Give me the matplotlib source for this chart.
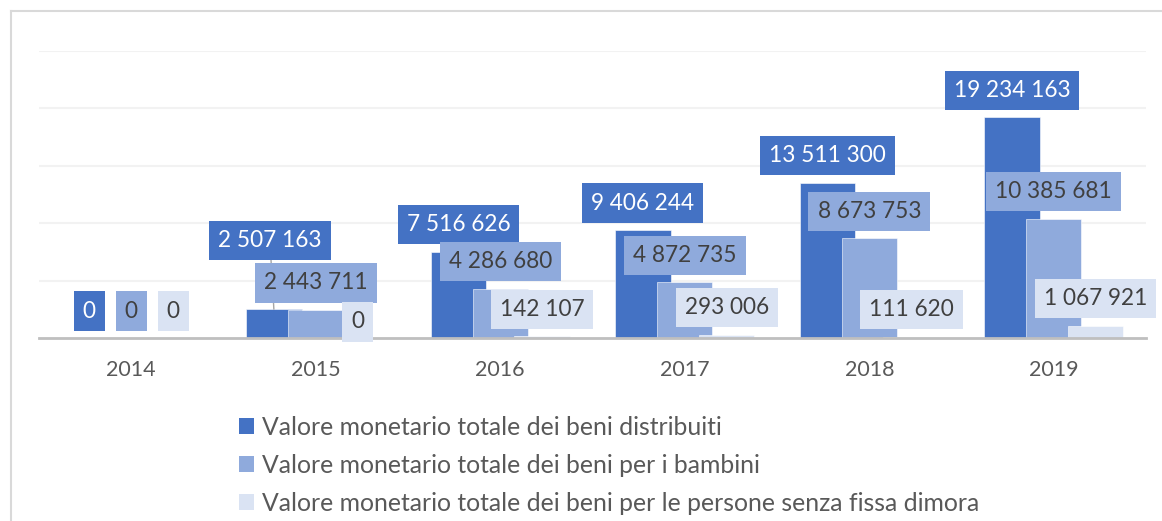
import matplotlib
matplotlib.use("Agg")
import matplotlib.pyplot as plt
import numpy as np
from matplotlib.patches import Patch
from matplotlib.lines import Line2D

plt.rcParams['font.family'] = ['Lato', 'DejaVu Sans']

anni = ['2014', '2015', '2016', '2017', '2018', '2019']
beni_distribuiti = [0, 2507163, 7516626, 9406244, 13511300, 19234163]
beni_bambini = [0, 2443711, 4286680, 4872735, 8673753, 10385681]
beni_senza_dimora = [0, 0, 142107, 293006, 111620, 1067921]

nomi_serie = ['Valore monetario totale dei beni distribuiti',
              'Valore monetario totale dei beni per i bambini',
              'Valore monetario totale dei beni per le persone senza fissa dimora']

colori = ['#4472C4', '#8FAADC', '#DAE3F3']
colori_testo = ['white', '#404040', '#404040']

W, H = 1162, 521
DPI = 100
PX = 72 / DPI  # pixel -> punti

fig = plt.figure(figsize=(W / DPI, H / DPI), dpi=DPI)
ax = fig.add_axes([39 / W, 1 - 338 / H, (1146 - 39) / W, (338 - 51) / H])

# bordo del grafico (si vedono solo lato sinistro e alto)
fig.add_artist(Line2D([11 / W, 11 / W], [0, 1 - 11 / H], transform=fig.transFigure,
                      color='#D9D9D9', lw=1.5))
fig.add_artist(Line2D([11 / W, 1], [1 - 11 / H, 1 - 11 / H], transform=fig.transFigure,
                      color='#D9D9D9', lw=1.5))

x = np.arange(len(anni))
larghezza = 0.30
passo = 0.227
fs = 16.3

# etichette spostate a mano nell'originale (serie, indice) -> (dx, dy) in pixel
spostate = {(0, 1): (-4, 69), (2, 1): (0, 16)}

serie = [beni_distribuiti, beni_bambini, beni_senza_dimora]
for i, valori in enumerate(serie):
    pos = x + (i - 1) * passo
    ax.bar(pos, valori, larghezza, color=colori[i], edgecolor='white', linewidth=0.4,
           zorder=2 + i)
    for j, v in enumerate(valori):
        dx, dy = spostate.get((i, j), (0, 27))
        testo = f"{v:,}".replace(",", " ")
        arrow = None
        if (i, j) == (0, 1):
            arrow = dict(arrowstyle='-', color='#A6A6A6', lw=1, shrinkA=0, shrinkB=0)
        ax.annotate(testo, xy=(pos[j], v), xytext=(dx * PX, dy * PX),
                    textcoords='offset points', ha='center', va='center',
                    fontsize=fs, color=colori_testo[i], zorder=10 + i,
                    bbox=dict(boxstyle='square,pad=0.4', fc=colori[i], ec='none'),
                    arrowprops=arrow, annotation_clip=False)

ax.set_xlim(-0.5, len(anni) - 0.5)
ax.set_ylim(0, 25000000)
ax.set_yticks(np.arange(5000000, 25000001, 5000000))
ax.yaxis.grid(True, color='#F2F2F2', lw=1.5, zorder=0)
ax.set_axisbelow(True)
for s in ['top', 'right', 'left']:
    ax.spines[s].set_visible(False)
ax.spines['bottom'].set_color('#BFBFBF')
ax.spines['bottom'].set_linewidth(2)
ax.spines['bottom'].set_zorder(8)
ax.set_yticklabels([])
ax.tick_params(axis='y', length=0)
ax.set_xticks(x)
ax.set_xticklabels(anni)
ax.tick_params(axis='x', length=0, pad=16, labelsize=15.5, labelcolor='#595959')

handles = [Patch(facecolor=c, edgecolor='none') for c in colori]
fig.legend(handles, nomi_serie, loc='upper left',
           bbox_to_anchor=(239 / W, 1 - 416 / H), frameon=False,
           fontsize=17.8, labelcolor='#595959', borderpad=0, borderaxespad=0,
           handlelength=0.62, handleheight=0.62, handletextpad=0.33,
           labelspacing=0.6)

fig.savefig('out.png', dpi=DPI)
